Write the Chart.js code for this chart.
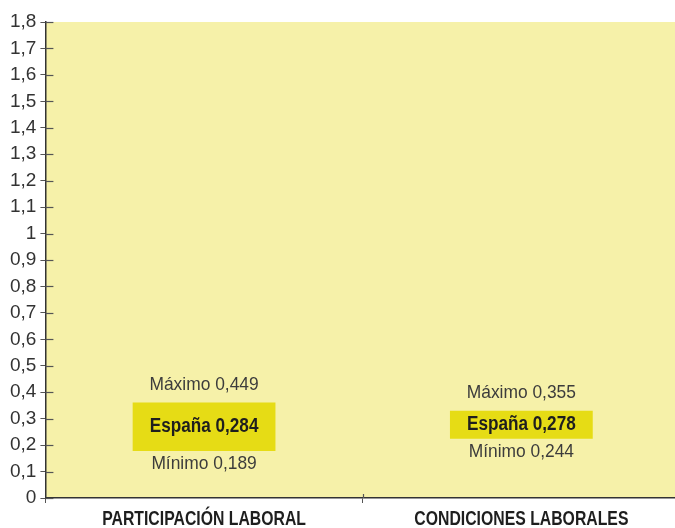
<!DOCTYPE html>
<html>
<head>
<meta charset="utf-8">
<script src="https://cdn.jsdelivr.net/npm/chart.js@4.4.1/dist/chart.umd.min.js"></script>
<style>
  html, body { margin: 0; padding: 0; background: #fff; overflow: hidden; }
  #wrap { width: 680px; height: 528px; position: relative; }
</style>
</head>
<body>
<div id="wrap"><canvas id="chart"></canvas></div>
<script>
const categories = ["PARTICIPACIÓN LABORAL", "CONDICIONES LABORALES"];
const espana = [0.284, 0.278];
const maximo = [0.449, 0.355];
const minimo = [0.189, 0.244];
// highlight box extent
const boxLow = [0.178, 0.224];
const boxHigh = [0.361, 0.330];

const fmt = (v) => Number(v).toFixed(3).replace(".", ",");
const FONT = "'Liberation Sans', Arial, sans-serif";

// draw text squeezed horizontally, like the condensed face of the original
function narrowText(ctx, text, x, y, sx) {
    ctx.save();
    ctx.translate(x, y);
    ctx.scale(sx, 1);
    ctx.fillText(text, 0, 0);
    ctx.restore();
}

const plotBackground = {
    id: "plotBackground",
    beforeDraw(chart) {
        const { ctx, chartArea } = chart;
        ctx.save();
        ctx.fillStyle = "#f6f1a9";
        ctx.fillRect(chartArea.left, chartArea.top, chartArea.right - chartArea.left, chartArea.bottom - chartArea.top);
        ctx.restore();
    }
};

const boxLabels = {
    id: "boxLabels",
    afterDatasetsDraw(chart) {
        const ctx = chart.ctx;
        const meta = chart.getDatasetMeta(0);
        ctx.save();
        ctx.textAlign = "center";
        ctx.textBaseline = "middle";
        meta.data.forEach((el, i) => {
            const top = Math.min(el.y, el.base);
            const bottom = Math.max(el.y, el.base);
            ctx.fillStyle = "#1e1e1e";
            ctx.font = "bold 19.5px " + FONT;
            narrowText(ctx, "España " + fmt(espana[i]), el.x, (top + bottom) / 2, 0.88);
            ctx.fillStyle = "#3c3c3c";
            ctx.font = "18.5px " + FONT;
            narrowText(ctx, "Máximo " + fmt(maximo[i]), el.x, top - 18, 0.94);
            narrowText(ctx, "Mínimo " + fmt(minimo[i]), el.x, bottom + 13, 0.94);
        });
        ctx.restore();
    }
};

const axisExtras = {
    id: "axisExtras",
    afterDraw(chart) {
        const { ctx, chartArea, scales } = chart;
        ctx.save();
        ctx.strokeStyle = "#555";
        ctx.lineWidth = 1.2;
        // inner part of the y ticks
        scales.y.ticks.forEach((t) => {
            const y = Math.round(scales.y.getPixelForValue(t.value)) + 0.5;
            ctx.beginPath();
            ctx.moveTo(chartArea.left, y);
            ctx.lineTo(chartArea.left + 8, y);
            ctx.stroke();
        });
        // inner part of the x tick between categories
        const xs = Math.round((scales.x.getPixelForValue(0) + scales.x.getPixelForValue(1)) / 2) + 0.5;
        ctx.beginPath();
        ctx.moveTo(xs, chartArea.bottom);
        ctx.lineTo(xs, chartArea.bottom - 4);
        ctx.stroke();
        // category labels
        ctx.fillStyle = "#1e1e1e";
        ctx.font = "bold 19.5px " + FONT;
        ctx.textAlign = "center";
        ctx.textBaseline = "middle";
        categories.forEach((c, i) => {
            narrowText(ctx, c, scales.x.getPixelForValue(i), chartArea.bottom + 22, 0.81);
        });
        ctx.restore();
    }
};

new Chart(document.getElementById("chart"), {
    type: "bar",
    data: {
        labels: categories,
        datasets: [{
            data: boxLow.map((v, i) => [v, boxHigh[i]]),
            backgroundColor: "#e6dc15",
            borderWidth: 0,
            barPercentage: 0.45,
            categoryPercentage: 1
        }]
    },
    options: {
        responsive: true,
        maintainAspectRatio: false,
        animation: false,
        layout: { padding: { top: 22, left: 6, right: 0, bottom: 25 } },
        plugins: {
            legend: { display: false },
            tooltip: { enabled: false }
        },
        scales: {
            x: {
                grid: {
                    drawOnChartArea: false,
                    tickLength: 5,
                    color: "#555",
                    offset: true
                },
                border: { color: "#333", width: 1.5 },
                ticks: { display: false }
            },
            y: {
                min: 0,
                max: 1.8,
                grid: {
                    drawOnChartArea: false,
                    tickLength: 5,
                    color: "#555"
                },
                border: { color: "#333", width: 1.5 },
                ticks: {
                    stepSize: 0.1,
                    color: "#333",
                    padding: 4,
                    font: { family: FONT, size: 19 },
                    callback: (v) => Number(v.toFixed(1)).toString().replace(".", ",")
                }
            }
        }
    },
    plugins: [plotBackground, boxLabels, axisExtras]
});
</script>
</body>
</html>
